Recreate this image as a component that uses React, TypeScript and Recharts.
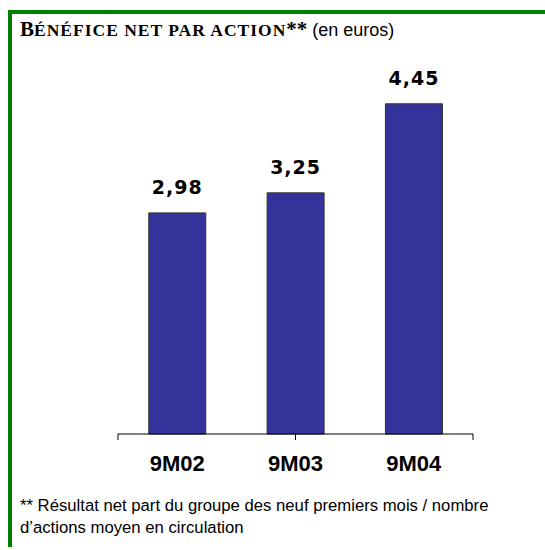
import React from 'react';
import { BarChart, Bar, XAxis, YAxis, LabelList } from 'recharts';

const categories = ['9M02', '9M03', '9M04'];
const eps = [2.98, 3.25, 4.45];
const edgeTicks = [0, 1, 2, 3];

const data = categories.map((c, i) => ({ name: c, value: eps[i] }));

const fmt = (v: number) => v.toFixed(2).replace('.', ',');

const serif = '"Liberation Serif", "Times New Roman", serif';
const sans = '"Liberation Sans", Arial, sans-serif';

export default function App() {
  return (
    <div style={{ position: 'absolute', left: 0, top: 0, width: 545, height: 550, background: '#fff' }}>
      <div
        style={{
          position: 'absolute', left: 8, top: 10, width: 537, height: 537,
          borderTop: '4px solid #008000', borderLeft: '4px solid #008000', boxSizing: 'border-box',
        }}
      />
      <div style={{ position: 'absolute', left: 20, top: 17, whiteSpace: 'nowrap', color: '#000', lineHeight: '24px' }}>
        <span style={{ fontFamily: serif, fontWeight: 'bold', fontSize: 21 }}>B</span>
        <span style={{ fontFamily: serif, fontWeight: 'bold', fontSize: 17.5, letterSpacing: 1 }}>ÉNÉFICE NET PAR ACTION</span>
        <span style={{ fontFamily: serif, fontWeight: 'bold', fontSize: 21 }}>**</span>
        <span style={{ fontFamily: sans, fontSize: 18 }}> (en euros)</span>
      </div>
      <div style={{ position: 'absolute', left: 0, top: 0 }}>
        <BarChart
          width={545}
          height={550}
          data={data}
          margin={{ top: 63, right: 72, left: 118, bottom: 68 }}
          barCategoryGap="26%"
        >
          <XAxis
            xAxisId="a-edges"
            type="number"
            domain={[0, 3]}
            ticks={edgeTicks}
            allowDataOverflow
            tick={() => <g />}
            tickSize={6}
            height={8}
            stroke="#000"
          />
          <XAxis
            xAxisId="b-cat"
            dataKey="name"
            axisLine={false}
            tickLine={false}
            height={40}
            tick={{ fontFamily: sans, fontWeight: 'bold', fontSize: 22, fill: '#000' }}
            tickMargin={7}
          />
          <YAxis hide domain={[0, 5]} />
          <Bar xAxisId="b-cat" dataKey="value" fill="#333399" stroke="#333" strokeWidth={1} isAnimationActive={false}>
            <LabelList
              dataKey="value"
              position="top"
              offset={19}
              formatter={(v: number) => fmt(v)}
              style={{ fontFamily: '"DejaVu Sans", sans-serif', fontWeight: 'bold', fontSize: 19, fill: '#000', letterSpacing: 1 }}
            />
          </Bar>
        </BarChart>
      </div>
      <div
        style={{
          position: 'absolute', left: 20, top: 495, fontFamily: sans,
          fontSize: 16.7, lineHeight: '22px', color: '#000', width: 520, whiteSpace: 'nowrap',
        }}
      >
        ** Résultat net part du groupe des neuf premiers mois / nombre
        <br />
        d’actions moyen en circulation
      </div>
    </div>
  );
}
